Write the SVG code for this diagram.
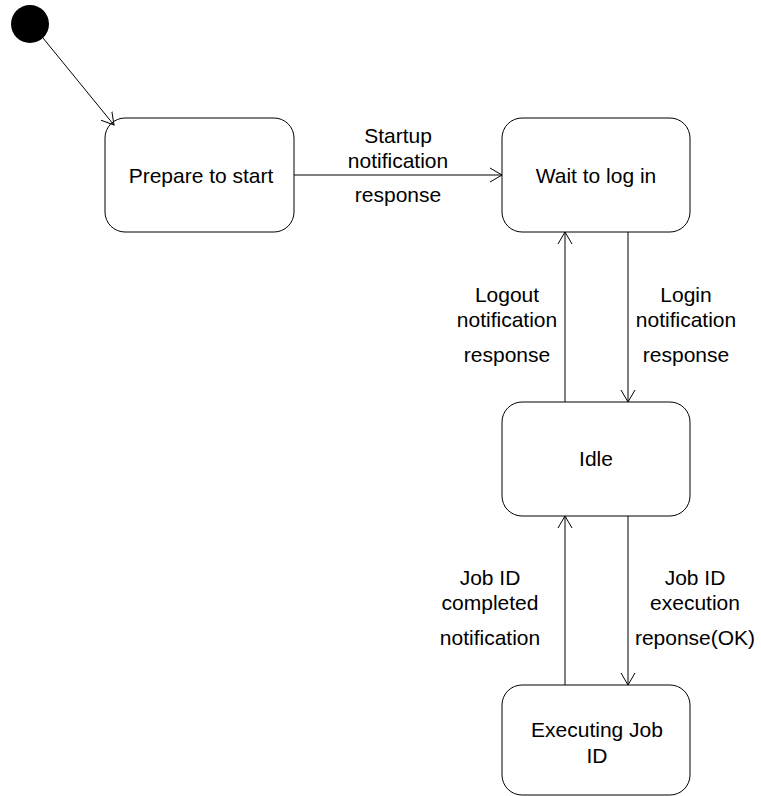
<svg xmlns="http://www.w3.org/2000/svg" width="761" height="796" viewBox="0 0 761 796">
<style>
.st{fill:#fff;stroke:#000;stroke-width:1}
.t{font-family:"Liberation Sans",Arial,sans-serif;font-size:21px;fill:#000;text-anchor:middle}
.c{fill:none;stroke:#000;stroke-width:1}
</style>
<defs>
<marker id="arr" markerWidth="14" markerHeight="16" refX="12" refY="8" orient="auto" markerUnits="userSpaceOnUse">
<path d="M0,1 L12,8 L0,15" fill="none" stroke="#000" stroke-width="1"/>
</marker>
</defs>
<rect width="761" height="796" fill="#fff"/>
<g id="initial"><circle cx="30" cy="24" r="19" fill="#000"/></g>
<g id="prepare"><rect class="st" x="105" y="118" width="189" height="114" rx="20"/><text class="t" x="201" y="183">Prepare to start</text></g>
<g id="wait"><rect class="st" x="502" y="118" width="188" height="114" rx="20"/><text class="t" x="596" y="183">Wait to log in</text></g>
<g id="idle"><rect class="st" x="502" y="402" width="188" height="114" rx="20"/><text class="t" x="596" y="466">Idle</text></g>
<g id="executing"><rect class="st" x="502" y="685" width="188" height="110" rx="20"/><text class="t" x="597" y="737">Executing Job</text><text class="t" x="597" y="763">ID</text></g>
<g id="connectors">
<line class="c" x1="43" y1="38" x2="114" y2="125" marker-end="url(#arr)"/>
<line class="c" x1="294" y1="175" x2="502" y2="175" marker-end="url(#arr)"/>
<line class="c" x1="565" y1="402" x2="565" y2="232" marker-end="url(#arr)"/>
<line class="c" x1="628" y1="232" x2="628" y2="402" marker-end="url(#arr)"/>
<line class="c" x1="565" y1="685" x2="565" y2="516" marker-end="url(#arr)"/>
<line class="c" x1="628" y1="516" x2="628" y2="685" marker-end="url(#arr)"/>
</g>
<g id="labels">
<text class="t" x="398" y="143">Startup</text>
<text class="t" x="398" y="168">notification</text>
<text class="t" x="398" y="202">response</text>
<text class="t" x="507" y="302">Logout</text>
<text class="t" x="507" y="327">notification</text>
<text class="t" x="507" y="362">response</text>
<text class="t" x="686" y="302">Login</text>
<text class="t" x="686" y="327">notification</text>
<text class="t" x="686" y="362">response</text>
<text class="t" x="490" y="585">Job ID</text>
<text class="t" x="490" y="610">completed</text>
<text class="t" x="490" y="645">notification</text>
<text class="t" x="695" y="585">Job ID</text>
<text class="t" x="695" y="610">execution</text>
<text class="t" x="695" y="645">reponse(OK)</text>
</g>
</svg>
